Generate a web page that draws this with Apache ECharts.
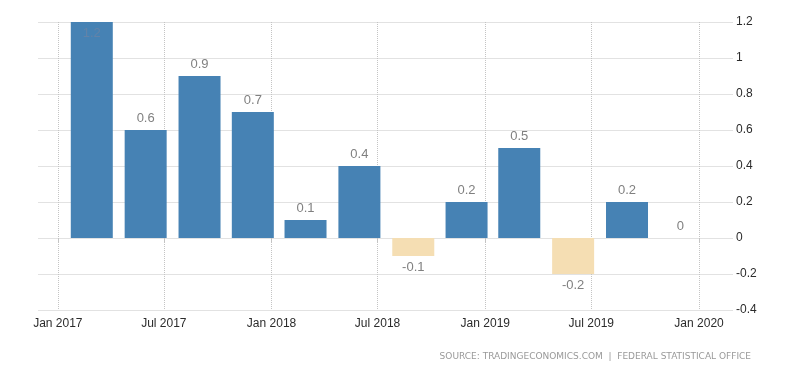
<!DOCTYPE html>
<html>
<head>
<meta charset="utf-8">
<script src="https://cdn.jsdelivr.net/npm/echarts@6/dist/echarts.min.js"></script>
<style>html,body{margin:0;padding:0;background:#fff}#c{width:800px;height:373px}</style>
</head>
<body>
<div id="c"></div>
<script>
var periods = ['2017-02-28','2017-05-31','2017-08-31','2017-11-30','2018-02-28','2018-05-31','2018-08-31','2018-11-30','2019-02-28','2019-05-31','2019-08-31','2019-11-30'];
var values = [1.2, 0.6, 0.9, 0.7, 0.1, 0.4, -0.1, 0.2, 0.5, -0.2, 0.2, 0];
var tickDates = ['2017-01-01','2017-07-01','2018-01-01','2018-07-01','2019-01-01','2019-07-01','2020-01-01'];
var tickLabels = ['Jan 2017','Jul 2017','Jan 2018','Jul 2018','Jan 2019','Jul 2019','Jan 2020'];

function ts(s){ var p = s.split('-'); return Date.UTC(+p[0], +p[1]-1, +p[2]); }
var tickTs = tickDates.map(ts);

var data = periods.map(function(d, i){
  var v = values[i];
  var item = { value: [ts(d), v], itemStyle: { color: v < 0 ? '#F5DEB3' : '#4682B4' } };
  if (v < 0) item.label = { position: 'bottom' };
  if (v >= 1.2) item.label = { position: 'insideTop', color: '#6383a8' };
  return item;
});

var chart = echarts.init(document.getElementById('c'));
chart.setOption({
  animation: false,
  grid: { left: 38.5, right: 67, top: 22, bottom: 63 },
  xAxis: {
    type: 'value',
    min: ts('2016-11-29'),
    max: ts('2020-02-28'),
    axisLine: { show: false },
    axisTick: { show: true, customValues: tickTs, length: 4, lineStyle: { color: '#c4c4c4' } },
    axisLabel: {
      customValues: tickTs,
      margin: 8,
      color: '#2b2b2b',
      fontFamily: 'Liberation Sans',
      fontSize: 12,
      formatter: function(v){ var i = tickTs.indexOf(v); return i >= 0 ? tickLabels[i] : ''; }
    },
    splitLine: { show: true, lineStyle: { color: '#c4c4c4', type: [1, 1] } }
  },
  yAxis: {
    type: 'value',
    position: 'right',
    min: -0.4, max: 1.2, interval: 0.2,
    axisLine: { show: false },
    axisTick: { show: false },
    axisLabel: {
      margin: 3, color: '#2b2b2b', fontFamily: 'Liberation Sans', fontSize: 12,
      formatter: function(v){ return String(Math.round(v*10)/10); }
    },
    splitLine: { show: true, lineStyle: { color: '#c4c4c4', type: [1, 1] } }
  },
  series: [{
    type: 'bar',
    barWidth: 42,
    data: data,
    label: {
      show: true, position: 'top', distance: 5,
      color: '#808080', fontFamily: 'Liberation Sans', fontSize: 13,
      formatter: function(p){ return String(p.value[1]); }
    }
  }],
  graphic: [{
    type: 'text', right: 49, top: 352,
    style: { text: 'SOURCE: TRADINGECONOMICS.COM  |  FEDERAL STATISTICAL OFFICE', fill: '#999', font: '9px "DejaVu Sans"' }
  }]
});
</script>
</body>
</html>
